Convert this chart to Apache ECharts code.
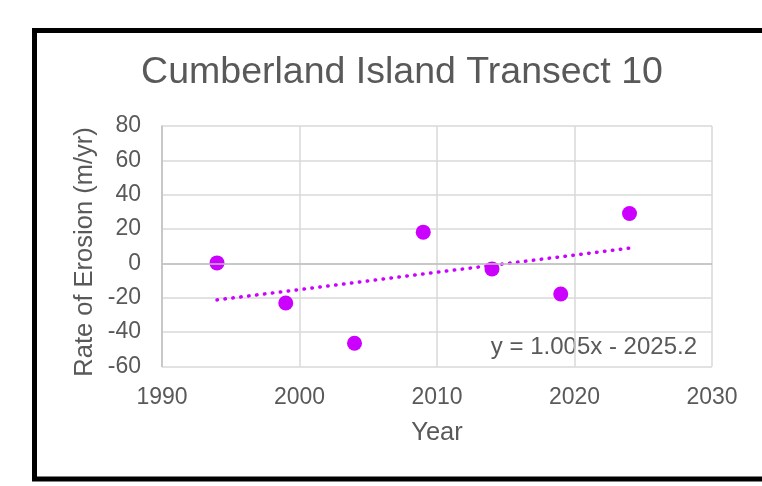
<!DOCTYPE html>
<html>
<head>
<meta charset="utf-8">
<script src="https://cdn.jsdelivr.net/npm/echarts@6/dist/echarts.min.js"></script>
<style>
html,body{margin:0;padding:0;background:#fff;}
#c{width:762px;height:486px;}
</style>
</head>
<body>
<div id="c"></div>
<script>
var years = [1994, 1999, 2004, 2009, 2014, 2019, 2024];
var rates = [0.3, -23, -46.5, 18.2, -3.2, -17.8, 29.1];
var trendSlope = 1.005;
var trendIntercept = -2025.2;
var trendYears = [1994, 2024];
var xTicks = [1990, 2000, 2010, 2020, 2030];
var yTicks = [-60, -40, -20, 0, 20, 40, 60, 80];
var titleText = 'Cumberland Island Transect 10';
var xTitle = 'Year';
var yTitle = 'Rate of Erosion (m/yr)';
var equationText = 'y = 1.005x - 2025.2';

var pts = years.map(function (y, i) { return [y, rates[i]]; });
var trend = trendYears.map(function (x) { return [x, trendSlope * x + trendIntercept]; });

var chart = echarts.init(document.getElementById('c'));
var txt = '#595959';
var font = 'Liberation Sans, Arial, sans-serif';
chart.setOption({
  animation: false,
  grid: { left: 162, right: 50, top: 126, bottom: 119.5 },
  xAxis: {
    type: 'value',
    min: xTicks[0], max: xTicks[xTicks.length - 1], interval: 10,
    name: xTitle, nameLocation: 'middle', nameGap: 53,
    nameTextStyle: { fontFamily: font, fontSize: 25.5, color: txt },
    axisLine: { show: false },
    axisTick: { show: false },
    axisLabel: { fontFamily: font, fontSize: 23, color: txt, margin: 20,
      formatter: function (v) { return String(v); } },
    splitLine: { show: true, lineStyle: { color: '#d9d9d9', width: 1.5 } }
  },
  yAxis: {
    type: 'value',
    min: yTicks[0], max: yTicks[yTicks.length - 1], interval: 20,
    axisLine: { show: true, lineStyle: { color: '#bfbfbf', width: 1.5 } },
    axisTick: { show: false },
    axisLabel: { fontFamily: font, fontSize: 23, color: txt, margin: 21 },
    splitLine: { show: true, lineStyle: { color: '#d9d9d9', width: 1.5 } }
  },
  series: [
    {
      type: 'line',
      data: trend,
      symbol: 'none',
      silent: true,
      lineStyle: { color: '#cc00ff', width: 3.5, type: [0.5, 7.47], cap: 'round' },
      markLine: {
        silent: true, symbol: 'none', label: { show: false },
        lineStyle: { color: '#bfbfbf', width: 1.5, type: 'solid' },
        data: [{ yAxis: 0 }]
      },
      z: 2
    },
    {
      type: 'scatter',
      data: pts,
      symbol: 'circle',
      symbolSize: 15,
      itemStyle: { color: '#cc00ff', opacity: 1 },
      z: 3
    }
  ],
  graphic: [
    {
      type: 'rect',
      shape: { x: 34.5, y: 30.5, width: 800, height: 448.5 },
      style: { fill: 'none', stroke: '#000', lineWidth: 5 },
      silent: true
    },
    {
      type: 'text',
      x: 402, y: 73,
      style: { text: titleText, fontFamily: font, fontSize: 37.5, fill: txt,
        align: 'center', verticalAlign: 'middle' }
    },
    {
      type: 'text',
      x: 85, y: 252, rotation: Math.PI / 2,
      style: { text: yTitle, fontFamily: font, fontSize: 25.5, fill: txt,
        align: 'center', verticalAlign: 'middle' }
    },
    {
      type: 'text',
      right: 65, top: 335,
      style: { text: equationText, fontFamily: font, fontSize: 24, fill: txt }
    }
  ]
});
</script>
</body>
</html>
